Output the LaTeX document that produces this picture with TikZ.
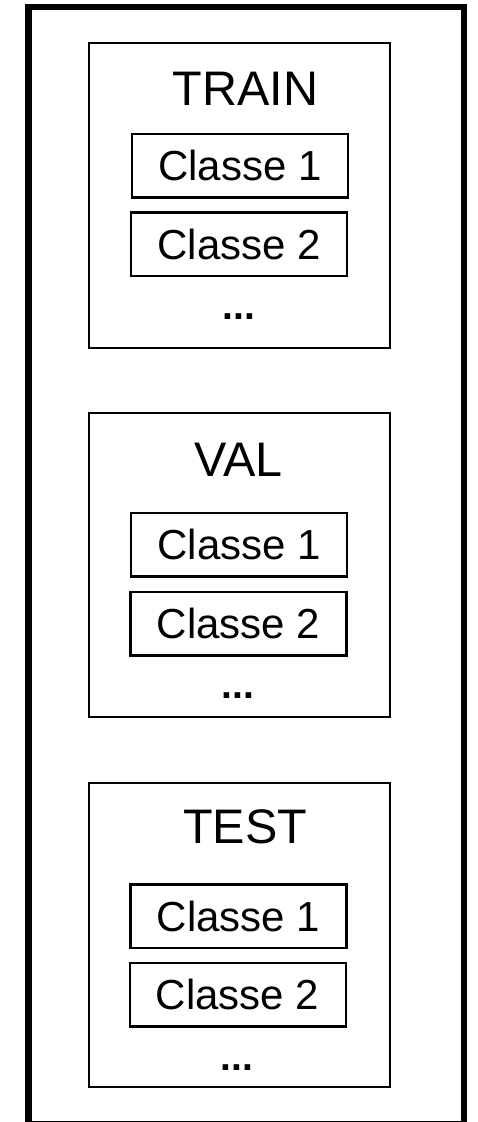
\documentclass[tikz,border=0pt]{standalone}
\usepackage{fontspec}
\setmainfont{Liberation Sans}
\tikzset{
  frame/.style={draw=black, line width=6.5pt},
  splitbox/.style={draw=black, line width=2.2pt, rectangle, inner sep=0pt, minimum width=301pt, minimum height=304.5pt},
  classbox/.style={draw=black, line width=2.2pt, rectangle, inner sep=0pt, minimum width=216pt, minimum height=63.5pt,
    font=\fontsize{42}{42}\selectfont, text height=30pt, text depth=0pt},
  title/.style={anchor=base, inner sep=0pt, font=\fontsize{48.5}{48.5}\selectfont},
  dots/.style={anchor=base, inner sep=0pt, font=\bfseries\fontsize{39}{39}\selectfont}
}
\begin{document}
\begin{tikzpicture}[x=1pt, y=-1pt]
\useasboundingbox (0,0) rectangle (477,1122);
\draw[frame] (28.3,7.2) rectangle (464.1,1124.5);
% TRAIN
\node[splitbox] (train) at (239.1,195.4) {};
\node[title] (traint) at (245.7,105.3) {TRAIN};
\node[classbox] (train1) at (240,165.8) {Classe 1};
\node[classbox] (train2) at (239.2,244.3) {Classe 2};
\node[dots] (traind) at (239,319.3) {...};
% VAL
\node[splitbox] (val) at (239.1,565) {};
\node[title] (valt) at (238.3,476) {VAL};
\node[classbox] (val1) at (239.3,544.8) {Classe 1};
\node[classbox] (val2) at (238.5,623.8) {Classe 2};
\node[dots] (vald) at (238,698.3) {...};
% TEST
\node[splitbox] (test) at (239.1,935) {};
\node[title] (testt) at (245,843.3) {TEST};
\node[classbox] (test1) at (238.5,916.2) {Classe 1};
\node[classbox] (test2) at (237.7,994.8) {Classe 2};
\node[dots] (testd) at (237,1070) {...};
\end{tikzpicture}
\end{document}
